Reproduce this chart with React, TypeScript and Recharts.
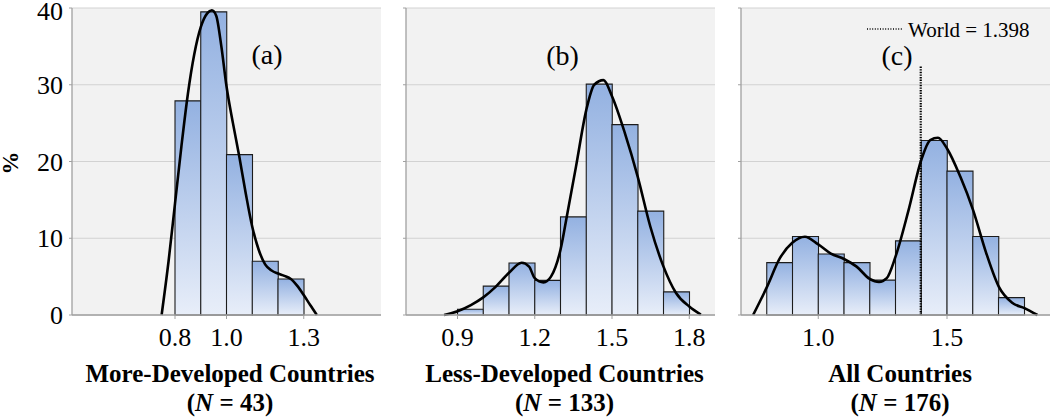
import React from 'react';
import { ComposedChart, Bar, Line, XAxis, YAxis, CartesianGrid, ReferenceLine } from 'recharts';

const FONT = '"Liberation Serif", "Times New Roman", Times, serif';

// ---------- data ----------
// Panel (a) More-Developed Countries: bins of 0.1 from 0.4 to 1.6
const binsA = ['0.4', '0.5', '0.6', '0.7', '0.8', '0.9', '1.0', '1.1', '1.2', '1.3', '1.4', '1.5'];
const pctA = [null, null, null, null, 27.9, 39.5, 20.9, 7.0, 4.7, null, null, null];
const densXA = [0.748, 0.775, 0.8, 0.825, 0.85, 0.875, 0.9, 0.925, 0.943, 0.96, 0.98, 1.0, 1.025, 1.05, 1.075, 1.1, 1.125, 1.15, 1.175, 1.2, 1.225, 1.25, 1.275, 1.3, 1.325, 1.351];
const densYA = [0, 7, 14.5, 22, 28.8, 34, 37.5, 39.3, 39.7, 39.0, 35.0, 29.8, 25.0, 20.6, 15.8, 11.5, 8.5, 6.6, 5.8, 5.4, 5.1, 4.7, 3.8, 2.6, 1.3, 0];
const ticksA = [0.8, 1.0, 1.3];
const domainA = [0.4, 1.6];

// Panel (b) Less-Developed Countries: bins of 0.1 from 0.7 to 1.9
const binsB = ['0.7', '0.8', '0.9', '1.0', '1.1', '1.2', '1.3', '1.4', '1.5', '1.6', '1.7', '1.8'];
const pctB = [null, null, 0.75, 3.76, 6.77, 4.51, 12.78, 30.08, 24.81, 13.53, 3.01, null];
const densXB = [0.848, 0.9, 0.952, 1.0, 1.049, 1.1, 1.149, 1.178, 1.2, 1.234, 1.263, 1.3, 1.327, 1.36, 1.4, 1.431, 1.467, 1.5, 1.55, 1.6, 1.649, 1.7, 1.748, 1.8, 1.845];
const densYB = [0, 0.5, 1.3, 2.3, 3.7, 5.5, 6.8, 6.3, 4.8, 4.25, 5.0, 8.5, 13.3, 19.3, 26.7, 30.0, 30.6, 28.5, 23.7, 18.0, 11.5, 6.3, 2.9, 1.1, 0.05];
const ticksB = [0.9, 1.2, 1.5, 1.8];
const domainB = [0.7, 1.9];

// Panel (c) All Countries
const binsC = ['0.7', '0.8', '0.9', '1.0', '1.1', '1.2', '1.3', '1.4', '1.5', '1.6', '1.7', '1.8'];
const pctC = [null, 6.82, 10.23, 7.95, 6.82, 4.55, 9.66, 22.73, 18.75, 10.23, 2.27, null];
const densXC = [0.747, 0.8, 0.851, 0.899, 0.948, 1.0, 1.049, 1.1, 1.149, 1.2, 1.236, 1.266, 1.3, 1.351, 1.4, 1.435, 1.465, 1.5, 1.552, 1.601, 1.652, 1.701, 1.753, 1.801, 1.851];
const densYC = [0, 3.6, 7.4, 9.4, 10.2, 9.2, 8.0, 7.3, 6.3, 4.7, 4.3, 4.8, 7.6, 13.7, 20.2, 22.8, 23.1, 21.7, 18.0, 13.7, 8.1, 3.7, 1.6, 0.9, 0];
const ticksC = [1.0, 1.5];
const domainC = [0.7, 1.9];
const worldValue = 1.398;
const worldLineTop = 32.4;

const yTicks = [0, 10, 20, 30, 40];
const yDomain = [0, 40];

const titles = [
  { name: 'More-Developed Countries', n: '43', letter: '(a)' },
  { name: 'Less-Developed Countries', n: '133', letter: '(b)' },
  { name: 'All Countries', n: '176', letter: '(c)' },
];

// ---------- helpers ----------
const zipBars = (bins: string[], pct: (number | null)[]) => bins.map((b, i) => ({ bin: b, pct: pct[i] }));
const zipLine = (xs: number[], ys: number[]) => xs.map((x, i) => ({ x, d: ys[i] }));

const AXIS = '#a0a0a0';
const GRID = '#d2d2d2';
const BG = '#f2f2f2';

function YTick(props: any) {
  const { x, y, payload, show } = props;
  // keep the top label inside the picture, as the original does
  const yy = Math.max(y, 11);
  return (
    <text x={x} y={yy} dy="0.355em" textAnchor="end" fontSize={26} fontFamily={FONT} fill="#000">
      {show ? String(payload.value) : ''}
    </text>
  );
}

type PanelProps = {
  id: string;
  left: number;
  width: number;
  yWidth: number;
  showYLabels: boolean;
  bins: string[];
  pct: (number | null)[];
  dx: number[];
  dy: number[];
  ticks: number[];
  domain: number[];
  world?: boolean;
};

function Panel(p: PanelProps) {
  const bars = zipBars(p.bins, p.pct);
  const dens = zipLine(p.dx, p.dy);
  return (
    <div style={{ position: 'absolute', left: p.left, top: 0 }}>
      <ComposedChart
        width={p.width}
        height={417}
        data={bars}
        margin={{ top: 8, right: 0, bottom: 72, left: 0 }}
        barCategoryGap={0}
        barGap={0}
        style={{ fontFamily: FONT }}
      >
        <defs>
          <linearGradient id={`grad-${p.id}`} x1="0" y1="0" x2="0" y2="1">
            <stop offset="0%" stopColor="#93b1e1" />
            <stop offset="100%" stopColor="#e8eef9" />
          </linearGradient>
        </defs>
        <CartesianGrid xAxisId="num" vertical={false} stroke={GRID} fill={BG} fillOpacity={1} />
        <XAxis xAxisId="cat" dataKey="bin" type="category" hide height={0} />
        <XAxis
          xAxisId="num"
          dataKey="x"
          type="number"
          domain={p.domain}
          ticks={p.ticks}
          interval={0}
          allowDataOverflow
          tickFormatter={(v: number) => v.toFixed(1)}
          stroke={AXIS}
          axisLine={{ stroke: AXIS, strokeWidth: 1.3 }}
          tickLine={{ stroke: AXIS }}
          tickSize={4}
          tickMargin={9}
          height={30}
          tick={{ fill: '#000', fontSize: 26, fontFamily: FONT }}
        />
        <YAxis
          domain={yDomain}
          ticks={yTicks}
          interval={0}
          width={p.yWidth}
          axisLine={{ stroke: AXIS, strokeWidth: 1.3 }}
          tickLine={{ stroke: AXIS }}
          tickSize={3}
          tickMargin={6}
          tick={<YTick show={p.showYLabels} />}
        />
        <Bar
          xAxisId="cat"
          dataKey="pct"
          fill={`url(#grad-${p.id})`}
          stroke="#1c1c1c"
          strokeWidth={1.1}
          isAnimationActive={false}
        />
        {p.world ? (
          <ReferenceLine
            xAxisId="num"
            segment={[
              { x: worldValue, y: 0 },
              { x: worldValue, y: worldLineTop },
            ]}
            stroke="#000"
            strokeWidth={2.2}
            strokeDasharray="1.4 1.2"
          />
        ) : null}
        <Line
          xAxisId="num"
          data={dens}
          dataKey="d"
          type="monotone"
          dot={false}
          activeDot={false}
          stroke="#000"
          strokeWidth={2.6}
          isAnimationActive={false}
        />
      </ComposedChart>
    </div>
  );
}

const titleX = [230, 564.5, 900];
const letterPos = [
  { x: 267, y: 64 },
  { x: 562.5, y: 65 },
  { x: 897, y: 64.5 },
];

export default function App() {
  return (
    <div style={{ position: 'absolute', left: 0, top: 0, width: 1050, height: 417, background: '#fff', overflow: 'hidden' }}>
      <Panel id="a" left={0} width={381} yWidth={72} showYLabels bins={binsA} pct={pctA} dx={densXA} dy={densYA} ticks={ticksA} domain={domainA} />
      <Panel id="b" left={381} width={334} yWidth={25} showYLabels={false} bins={binsB} pct={pctB} dx={densXB} dy={densYB} ticks={ticksB} domain={domainB} />
      <Panel id="c" left={715} width={335} yWidth={26} showYLabels={false} bins={binsC} pct={pctC} dx={densXC} dy={densYC} ticks={ticksC} domain={domainC} world />
      <svg
        width={1050}
        height={417}
        style={{ position: 'absolute', left: 0, top: 0, pointerEvents: 'none', fontFamily: FONT }}
      >
        <text x={10} y={163} transform="rotate(-90, 10, 163)" textAnchor="middle" dominantBaseline="central" fontSize={23} fontWeight="bold" fill="#000">
          %
        </text>
        {titles.map((t, i) => (
          <g key={t.name}>
            <text x={letterPos[i].x} y={letterPos[i].y} textAnchor="middle" fontSize={28} fill="#000">
              {t.letter}
            </text>
            <text x={titleX[i]} y={382} textAnchor="middle" fontSize={25} fontWeight="bold" fill="#000">
              {t.name}
            </text>
            <text x={titleX[i]} y={411} textAnchor="middle" fontSize={25} fontWeight="bold" fill="#000">
              (<tspan fontStyle="italic">N</tspan> = {t.n})
            </text>
          </g>
        ))}
        <line x1={867} x2={903} y1={29} y2={29} stroke="#000" strokeWidth={1.3} strokeDasharray="1 1.6" />
        <text x={908} y={36.5} fontSize={21} fill="#000">
          World = 1.398
        </text>
      </svg>
    </div>
  );
}
